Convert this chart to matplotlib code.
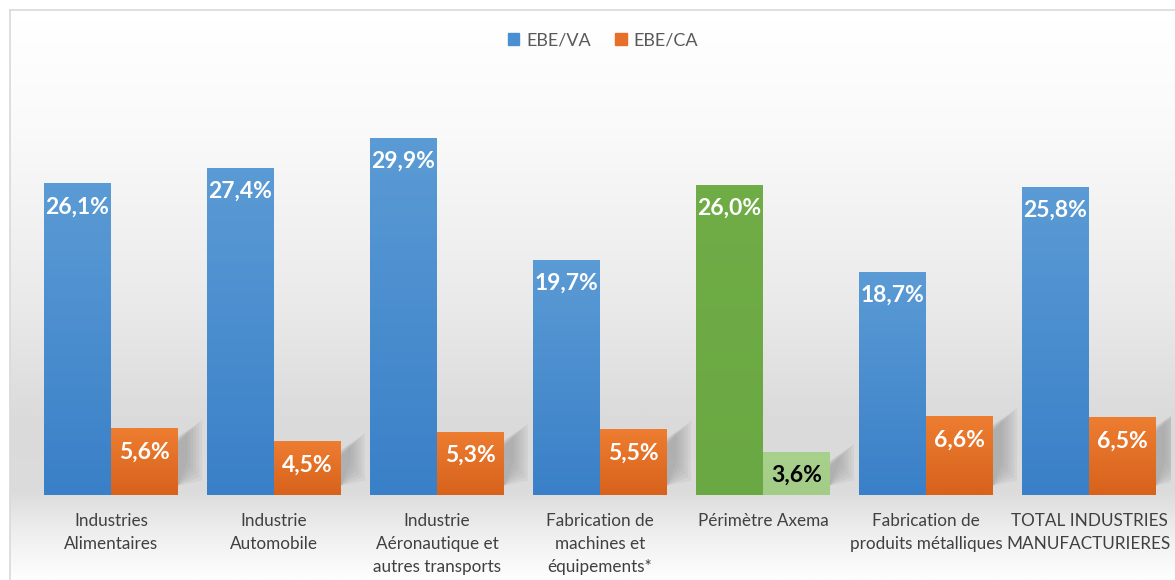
import matplotlib.pyplot as plt
import numpy as np
from matplotlib.colors import LinearSegmentedColormap
from matplotlib.patches import Polygon

plt.rcParams['font.family'] = ['Lato', 'DejaVu Sans']

categories = ["Industries\nAlimentaires", "Industrie\nAutomobile",
              "Industrie\nAéronautique et\nautres transports",
              "Fabrication de\nmachines et\néquipements*", "Périmètre Axema",
              "Fabrication de\nproduits métalliques",
              "TOTAL INDUSTRIES\nMANUFACTURIERES"]
ebe_va = [26.1, 27.4, 29.9, 19.7, 26.0, 18.7, 25.8]
ebe_ca = [5.6, 4.5, 5.3, 5.5, 3.6, 6.6, 6.5]
highlight = 4   # Périmètre Axema

W, H = 1175, 580
fig = plt.figure(figsize=(W / 100, H / 100), dpi=100)

# background: white -> grey -> white gradient inside a thin frame
bg = fig.add_axes([0, 0, 1, 1])
bg.set_xlim(0, W)
bg.set_ylim(H, 0)
bg.axis('off')
ys = np.arange(H)
grey = np.interp(ys, [10, 120, 300, 420, 490, 530, 575],
                 [255, 250, 234, 218, 220, 238, 253]) / 255
img = np.repeat(grey[:, None], 2, axis=1)
bg.imshow(np.dstack([img, img, img]), extent=[10, W, H, 10], aspect='auto', zorder=0)
bg.plot([10, W], [10, 10], color='#d9d9d9', lw=1.2, zorder=1)
bg.plot([10, 10], [10, H], color='#d9d9d9', lw=1.2, zorder=1)

ax = fig.add_axes([29.5 / W, 85 / H, 1141 / W, 358.2 / H])
ax.set_facecolor('none')
ax.set_xlim(-0.5, 6.5)
ax.set_ylim(0, 30)
for s in ax.spines.values():
    s.set_visible(False)
ax.set_yticks([])

x = np.arange(len(categories))
w = 67 / 163


def grad_bar(ax, xl, h, top, bottom):
    cmap = LinearSegmentedColormap.from_list('g', [bottom, top])
    bar = ax.bar(xl, h, w, align='edge', color=top, zorder=3)[0]
    im = ax.imshow(np.linspace(0, 1, 50)[:, None], cmap=cmap, origin='lower',
                   extent=[xl, xl + w, 0, h], aspect='auto', zorder=3.1)
    im.set_clip_path(bar)
    return bar


# soft shadows behind second-series bars (stacked translucent layers)
dx, dy = 24 / 163, 18 / 11.94
for i, v in enumerate(ebe_ca):
    r = x[i] + w
    for k in range(6):
        f = 1 - k * 0.12
        poly = Polygon([(r, v - 1.2 + k * 0.1), (r + dx * f, v + dy * f - 0.8),
                        (r + dx * f, 1.2 + k * 0.3), (r, 0.8)],
                       closed=True, facecolor='#7a7a7a', edgecolor='none',
                       alpha=0.085, zorder=2)
        ax.add_patch(poly)

for i in range(len(categories)):
    if i == highlight:
        grad_bar(ax, x[i] - w, ebe_va[i], '#70ad47', '#6aa843')
        grad_bar(ax, x[i], ebe_ca[i], '#a9d18e', '#a3cc87')
    else:
        grad_bar(ax, x[i] - w, ebe_va[i], '#5b9bd5', '#3a80c8')
        grad_bar(ax, x[i], ebe_ca[i], '#ed7d31', '#d8621c')

for i in range(len(categories)):
    for xc, v, col in [(x[i] - w / 2, ebe_va[i], 'white'),
                       (x[i] + w / 2, ebe_ca[i], 'black' if i == highlight else 'white')]:
        ax.annotate(f"{v:.1f}%".replace('.', ','), (xc, v), xytext=(0, -17),
                    textcoords='offset points', ha='center', va='center',
                    color=col, fontsize=16.5, fontweight='bold', zorder=5)

ax.set_xticks(x)
ax.set_xticklabels(categories, fontsize=12.3, color='#404040', linespacing=1.55)
ax.tick_params(axis='x', length=0, pad=13)

blue_h = plt.Rectangle((0, 0), 1, 1, color='#4a8fd2')
orange_h = plt.Rectangle((0, 0), 1, 1, color='#e6702a')
fig.legend([blue_h, orange_h], ['EBE/VA', 'EBE/CA'], loc='center',
           bbox_to_anchor=(603 / W, 1 - 40 / H), ncol=2, frameon=False,
           handlelength=0.65, handleheight=0.65, handletextpad=0.4,
           columnspacing=1.3, fontsize=13, labelcolor='#595959')

fig.savefig('out.png', dpi=100)
